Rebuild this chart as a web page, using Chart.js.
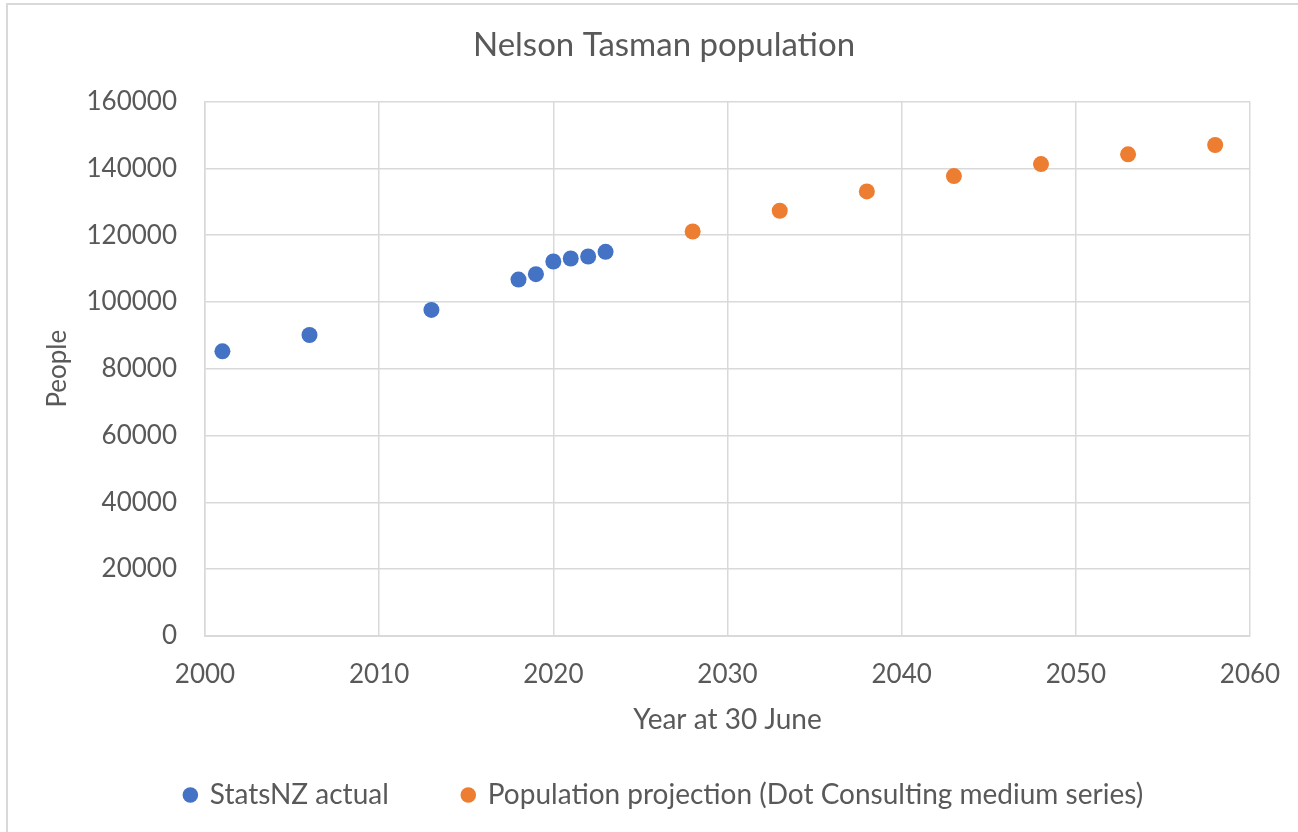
<!DOCTYPE html>
<html>
<head>
<meta charset="utf-8">
<script src="https://cdn.jsdelivr.net/npm/chart.js@4/dist/chart.umd.min.js"></script>
<style>
  html, body { margin: 0; padding: 0; background: #fff; }
  #frame { position: absolute; left: 6px; top: 3px; width: 1400px; height: 1000px; border: 2px solid #d9d9d9; box-sizing: border-box; }
  #c { position: absolute; left: 0; top: 0; }
</style>
</head>
<body>
<div id="frame"></div>
<canvas id="c" width="1298" height="832"></canvas>
<script>
const titleText = "Nelson Tasman population";
const xTitle = "Year at 30 June";
const yTitle = "People";
const actualLabel = "StatsNZ actual";
const projLabel = "Population projection (Dot Consulting medium series)";

const actualYears = [2001, 2006, 2013, 2018, 2019, 2020, 2021, 2022, 2023];
const actualPop   = [85200, 90100, 97600, 106700, 108300, 112100, 113000, 113600, 115000];
const projYears   = [2028, 2033, 2038, 2043, 2048, 2053, 2058];
const projPop     = [121100, 127300, 133100, 137700, 141300, 144200, 147000];

const xMin = 2000, xMax = 2060, xStep = 10;
const yMin = 0, yMax = 160000, yStep = 20000;

const FONT = "Lato, 'Open Sans', sans-serif";
const TXT = "#595959";
const GRID = "#d9d9d9";

const pts = (xs, ys) => xs.map((x, i) => ({ x: x, y: ys[i] }));

new Chart(document.getElementById('c'), {
  type: 'scatter',
  data: {
    datasets: [
      { label: actualLabel, data: pts(actualYears, actualPop), backgroundColor: '#4472c4', borderColor: '#4472c4', pointRadius: 8, pointHoverRadius: 8, pointBorderWidth: 0 },
      { label: projLabel, data: pts(projYears, projPop), backgroundColor: '#ed7d31', borderColor: '#ed7d31', pointRadius: 8, pointHoverRadius: 8, pointBorderWidth: 0 }
    ]
  },
  options: {
    responsive: false,
    animation: false,
    devicePixelRatio: 1,
    layout: { padding: { left: 78, right: 48, top: 0, bottom: 13 } },
    plugins: {
      title: { display: true, text: titleText, color: TXT, font: { family: FONT, size: 33, weight: 'normal' }, padding: { top: 26, bottom: 36 } },
      legend: {
        position: 'bottom',
        labels: { usePointStyle: true, pointStyle: 'circle', boxWidth: 11, boxHeight: 11, padding: 74, color: TXT, font: { family: FONT, size: 28 } }
      },
      tooltip: { enabled: false }
    },
    scales: {
      x: {
        type: 'linear', min: xMin, max: xMax,
        ticks: { stepSize: xStep, color: TXT, font: { family: FONT, size: 26 }, padding: 23, callback: v => String(v) },
        grid: { color: GRID, lineWidth: 1.5, drawTicks: false },
        border: { color: GRID, width: 2 },
        title: { display: true, text: xTitle, color: TXT, font: { family: FONT, size: 28 }, padding: { top: 0, bottom: -30 } },
        afterFit: s => { s.height = 71.2; s.paddingLeft = 0; s.paddingRight = 0; }
      },
      y: {
        type: 'linear', min: yMin, max: yMax,
        ticks: { stepSize: yStep, color: TXT, font: { family: FONT, size: 26 }, padding: 28, callback: v => String(v) },
        grid: { color: GRID, lineWidth: 1.5, drawTicks: false },
        border: { color: GRID, width: 1.5 },
        title: { display: true, text: yTitle, color: TXT, font: { family: FONT, size: 26 }, padding: { top: -35.6, bottom: 0 } },
        afterFit: s => { s.width = 127; }
      }
    }
  }
});
</script>
</body>
</html>
